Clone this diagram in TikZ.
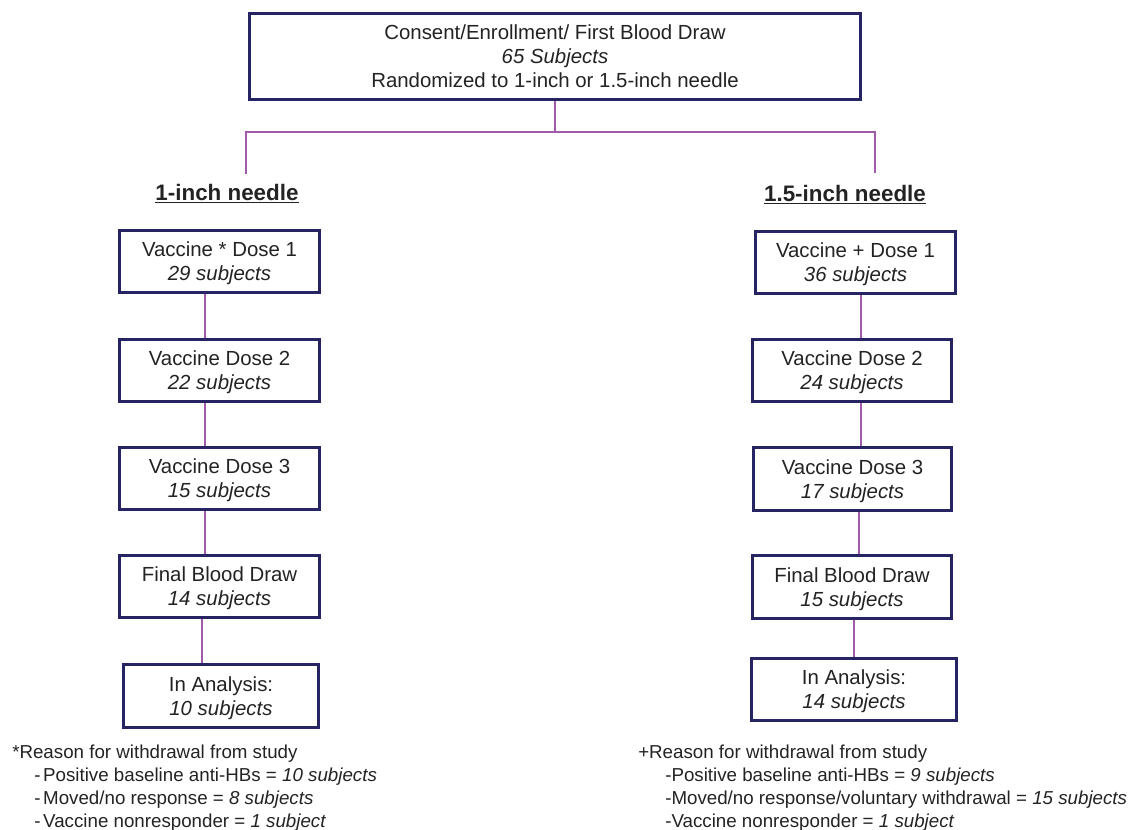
\documentclass[tikz,border=0pt]{standalone}
\usepackage{fontspec}
\setmainfont{Liberation Sans}
\definecolor{navy}{RGB}{38,36,98}
\definecolor{connc}{RGB}{160,90,170}
\definecolor{txt}{RGB}{35,35,35}
\tikzset{
  box/.style={draw=navy, line width=2.25pt, fill=white, inner sep=0pt, align=center,
    text=txt, font=\fontsize{15.3}{18}\selectfont},
  conn/.style={draw=connc, line width=1.1pt},
  head/.style={text=txt, font=\fontsize{16.8}{20}\selectfont\bfseries, inner sep=0pt},
  note/.style={text=txt, font=\fontsize{14.05}{17}\selectfont, inner sep=0pt, anchor=base west}
}
\newcommand{\subj}[1]{\smash{\textit{#1}}}
\begin{document}
\begin{tikzpicture}[x=0.75pt,y=-0.75pt]
\useasboundingbox (0,0) rectangle (1134,830);

% connector points
\coordinate (hl) at (246,132);
\coordinate (hr) at (875,132);
\coordinate (dl) at (246,174);
\coordinate (dr) at (875,173);

% boxes
\node[box, minimum width=458.25pt, minimum height=64.5pt] (top) at (555,56.5)
  {Consent/Enrollment/ First Blood Draw\\ \textit{65 Subjects}\\ Randomized to 1-inch or 1.5-inch needle};

\node[head] (lh) at (227,194) {\underline{1-inch needle}};
\node[head] (rh) at (845,195) {\underline{1.5-inch needle}};

\node[box, minimum width=150pt, minimum height=46.5pt] (L1) at (219.5,261.5) {Vaccine * Dose 1\\ \subj{29 subjects}};
\node[box, minimum width=150pt, minimum height=46.5pt] (L2) at (219.5,370.5) {Vaccine Dose 2\\ \subj{22 subjects}};
\node[box, minimum width=150pt, minimum height=46.5pt] (L3) at (219.5,478.5) {Vaccine Dose 3\\ \subj{15 subjects}};
\node[box, minimum width=150pt, minimum height=46.5pt] (L4) at (219.5,586.5) {Final Blood Draw\\ \subj{14 subjects}};
\node[box, minimum width=146.25pt, minimum height=47.25pt] (L5) at (221,696) {In Analysis:\\ \subj{10 subjects}};

\node[box, minimum width=150pt, minimum height=46.5pt] (R1) at (855.5,262.5) {Vaccine + Dose 1\\ \subj{36 subjects}};
\node[box, minimum width=149.25pt, minimum height=46.5pt] (R2) at (852,370.5) {Vaccine Dose 2\\ \subj{24 subjects}};
\node[box, minimum width=148.5pt, minimum height=47.25pt] (R3) at (852.5,479) {Vaccine Dose 3\\ \subj{17 subjects}};
\node[box, minimum width=149.25pt, minimum height=47.25pt] (R4) at (852,587) {Final Blood Draw\\ \subj{15 subjects}};
\node[box, minimum width=153.75pt, minimum height=46.5pt] (R5) at (854,689.5) {In Analysis:\\ \subj{14 subjects}};

% connectors
\draw[conn] (top.south) -- (top.south |- hl);
\draw[conn] (dl) -- (hl) -- (hr) -- (dr);

\draw[conn] (L1.south -| 205,0) -- (L2.north -| 205,0);
\draw[conn] (L2.south -| 205,0) -- (L3.north -| 205,0);
\draw[conn] (L3.south -| 205,0) -- (L4.north -| 205,0);
\draw[conn] (L4.south -| 202,0) -- (L5.north -| 202,0);

\draw[conn] (R1.south -| 861,0) -- (R2.north -| 861,0);
\draw[conn] (R2.south -| 861,0) -- (R3.north -| 861,0);
\draw[conn] (R3.south -| 859,0) -- (R4.north -| 859,0);
\draw[conn] (R4.south -| 854,0) -- (R5.north -| 854,0);

% footnotes
\node[note] (ln0) at (12,758) {*Reason for withdrawal from study};
\node[note] (ln1) at (34,781) {-\hspace{2pt}Positive baseline anti-HBs = \textit{10 subjects}};
\node[note] (ln2) at (34,804) {-\hspace{2pt}Moved/no response = \textit{8 subjects}};
\node[note] (ln3) at (34,827) {-\hspace{2pt}Vaccine nonresponder = \textit{1 subject}};

\node[note] (rn0) at (638,758) {+Reason for withdrawal from study};
\node[note] (rn1) at (665,781) {-Positive baseline anti-HBs = \textit{9 subjects}};
\node[note] (rn2) at (665,804) {-Moved/no response/voluntary withdrawal = \textit{15 subjects}};
\node[note] (rn3) at (665,827) {-Vaccine nonresponder = \textit{1 subject}};
\end{tikzpicture}
\end{document}
